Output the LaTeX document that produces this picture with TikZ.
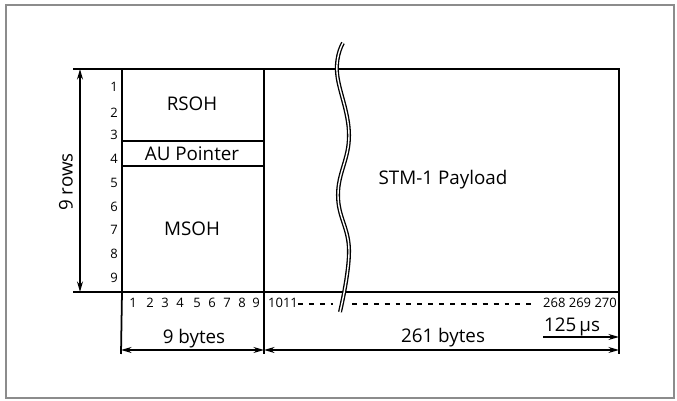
\documentclass[tikz,border=0pt]{standalone}
\usepackage{fontspec}
\setmainfont{Open Sans}
\usetikzlibrary{arrows.meta}

\begin{document}
\begin{tikzpicture}[x=0.02cm,y=-0.02cm,>={Stealth[length=6pt,width=3.4pt]},
  box/.style={line width=1.4pt},
  thin/.style={line width=1pt},
  dim/.style={line width=0.8pt,<->},
  lbl/.style={font=\fontsize{10.7}{12}\selectfont,inner sep=0pt},
  num/.style={font=\fontsize{7.4}{8}\selectfont,inner sep=0pt}]
  \useasboundingbox (0,0) rectangle (677,401);
  \draw[black!45,line width=0.6pt] (6,5) rectangle (674,398);

  % corners of the frame
  \coordinate (tl) at (122,69);
  \coordinate (tm) at (264,69);
  \coordinate (tr) at (619,69);
  \coordinate (bl) at (122,292);
  \coordinate (bm) at (264,292);
  \coordinate (br) at (619,292);
  \coordinate (au1l) at (122,141);
  \coordinate (au1r) at (264,141);
  \coordinate (au2l) at (122,166);
  \coordinate (au2r) at (264,166);

  \draw[box] (tl) rectangle (bm);
  \draw[box] (tm) rectangle (br);
  \draw[thin] (au1l) -- (au1r);
  \draw[thin] (au2l) -- (au2r);

  % extension lines
  \coordinate (xt) at (73,69);
  \coordinate (xb) at (73,292);
  \coordinate (dl) at (121,354);
  \coordinate (dm) at (264,354);
  \coordinate (dr) at (619,354);
  \draw[thin] (xt) -- (tl);
  \draw[thin] (xb) -- (bl);
  \draw[thin] (bl) -- (dl);
  \draw[thin] (bm) -- (dm);
  \draw[thin] (br) -- (dr);

  % dimension arrows
  \coordinate (ra) at (80,69);
  \coordinate (rb) at (80,292);
  \coordinate (ba) at (121,350);
  \coordinate (bb) at (264,350);
  \coordinate (bc) at (619,350);
  \coordinate (ta) at (543,337);
  \coordinate (tb) at (619,337);
  \draw[dim] (ra) -- (rb);
  \draw[dim] (ba) -- (bb);
  \draw[dim] (bb) -- (bc);
  \draw[line width=0.8pt,->] (ta) -- (tb);

  % byte dots
  \coordinate (d1) at (298,304);
  \coordinate (d2) at (333,304);
  \coordinate (d3) at (352,304);
  \coordinate (d4) at (535,304);
  \draw[line width=1.2pt,dash pattern=on 2.8pt off 3.4pt] (d1) -- (d2);
  \draw[line width=1.2pt,dash pattern=on 2.8pt off 3.4pt] (d3) -- (d4);

  % break
  \draw[line width=0.75pt,double=white,double distance=0.8pt]
    plot[smooth,tension=0.7] coordinates {(343,43) (337,72) (349,135) (338,195) (349,250) (340,312)};

  \node[lbl] (rsoh) at (192,104) {RSOH};
  \node[lbl] (aup) at (192,154) {AU Pointer};
  \node[lbl] (msoh) at (192,229) {MSOH};
  \node[lbl] (pay) at (443,180) {STM-1 Payload};
  \node[lbl,rotate=90] (rows) at (66,182) {9 rows};
  \node[lbl] (oh) at (194,339) {9 bytes};
  \node[lbl] (pl) at (443,338) {261 bytes};
  \node[lbl] (time) at (572,327) {125\,µs};

  \foreach \y [count=\i] in {87,113,135,159,183,207,230,254,278}
    \node[num] (row\i) at (114,\y) {\i};
  \foreach \x [count=\i] in {133,150,165,180,197,212,227,242,256}
    \node[num] (col\i) at (\x,303) {\i};
  \node[num] (col10) at (283,303) {1011};
  \node[num] (col268) at (580,303) {268 269 270};
\end{tikzpicture}
\end{document}
